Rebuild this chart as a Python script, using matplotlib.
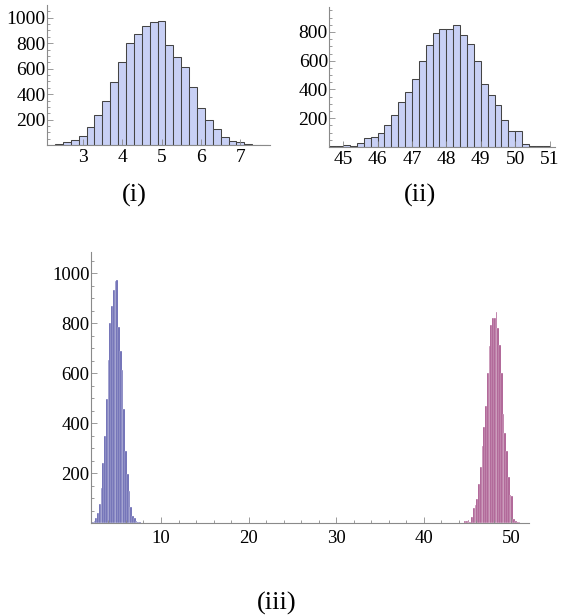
import matplotlib
matplotlib.use('Agg')
import matplotlib.pyplot as plt
import numpy as np

# histogram (i): bins of 0.2 starting at 2.1
edges1 = np.round(np.arange(2.1, 7.7001, 0.2), 2)
counts1 = [4, 6, 22, 40, 75, 140, 240, 350, 495, 655, 800, 870, 935, 968,
           975, 785, 690, 615, 455, 290, 195, 130, 65, 30, 22, 10, 5, 4]

# histogram (ii): bins of 0.2 starting at 44.6
edges2 = np.round(np.arange(44.6, 51.0001, 0.2), 2)
counts2 = [8, 10, 12, 4, 25, 60, 72, 95, 155, 225, 310, 385, 470, 600, 710, 795,
           820, 820, 845, 780, 715, 600, 435, 360, 290, 185, 112, 108, 18, 10, 4, 4]

ticks1 = [3, 4, 5, 6, 7]
ticks2 = [45, 46, 47, 48, 49, 50, 51]
ticks3 = [10, 20, 30, 40, 50]
yticks = [200, 400, 600, 800, 1000]

plt.rcParams['font.family'] = 'Liberation Serif'
plt.rcParams['font.size'] = 14

axcol = '#8a8a8a'


def style_axes(ax, fs):
    for s in ['top', 'right']:
        ax.spines[s].set_visible(False)
    for s in ['left', 'bottom']:
        ax.spines[s].set_color(axcol)
        ax.spines[s].set_linewidth(0.8)
    ax.tick_params(which='both', direction='in', color=axcol, width=0.6,
                   labelsize=fs)
    ax.tick_params(which='major', length=4)
    ax.tick_params(which='minor', length=2)
    ax.tick_params(axis='y', pad=1)
    ax.tick_params(axis='x', pad=3)


fig = plt.figure(figsize=(5.61, 6.15), dpi=100)

ax1 = fig.add_axes([0.084, 0.764, 0.398, 0.228])
ax1.hist(edges1[:-1], bins=edges1, weights=counts1, color='#c8d0f5',
         edgecolor='#444444', linewidth=0.75)
ax1.set_xlim(2.1, 7.76)
ax1.set_ylim(0, 1100)
ax1.set_xticks(ticks1)
ax1.set_yticks(yticks)
ax1.set_yticks(np.arange(50, 1100, 50), minor=True)
style_axes(ax1, 14)

ax2 = fig.add_axes([0.587, 0.761, 0.402, 0.228])
ax2.hist(edges2[:-1], bins=edges2, weights=counts2, color='#c8d0f5',
         edgecolor='#444444', linewidth=0.75)
ax2.set_xlim(44.6, 51.15)
ax2.set_ylim(0, 975)
ax2.set_xticks(ticks2)
ax2.set_yticks(yticks[:4])
ax2.set_yticks(np.arange(50, 975, 50), minor=True)
style_axes(ax2, 14)

ax3 = fig.add_axes([0.162, 0.1496, 0.781, 0.4407])
ax3.hist(edges1[:-1], bins=edges1, weights=counts1, color='#5a5aab',
         edgecolor='white', linewidth=0.25)
ax3.hist(edges2[:-1], bins=edges2, weights=counts2, color='#a24c86',
         edgecolor='white', linewidth=0.25)
ax3.set_xlim(2, 52)
ax3.set_ylim(0, 1086)
ax3.set_xticks(ticks3)
ax3.set_xticks(np.arange(4, 52, 2), minor=True)
ax3.set_yticks(yticks)
ax3.set_yticks(np.arange(50, 1086, 50), minor=True)
style_axes(ax3, 13.5)
ax3.tick_params(axis='x', pad=5)

fig.text(0.239, 0.683, '(i)', fontsize=19, ha='center', va='center')
fig.text(0.749, 0.683, '(ii)', fontsize=19, ha='center', va='center')
fig.text(0.494, 0.018, '(iii)', fontsize=19, ha='center', va='center')

fig.savefig('out.png', dpi=100)
